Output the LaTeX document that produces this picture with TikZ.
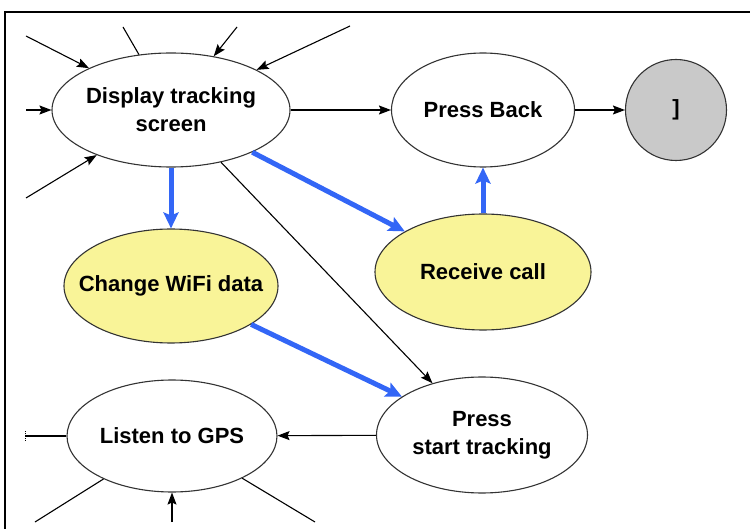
\documentclass[tikz,border=0pt]{standalone}
\usepackage{fontspec}
\setmainfont{Liberation Sans}
\usetikzlibrary{arrows.meta,shapes.geometric}
\definecolor{Wash}{HTML}{F9F498}
\definecolor{Stop}{HTML}{C9C9C9}
\definecolor{Path}{HTML}{3366F6}
\definecolor{Rim}{HTML}{333333}

\tikzset{
  state/.style={ellipse,draw=Rim,line width=1.1pt,fill=white,inner xsep=-22pt,inner ysep=0pt,
    align=center,font=\fontsize{22}{28}\selectfont\bfseries},
  hot/.style={state,fill=Wash},
  final/.style={circle,draw=Rim,line width=1.1pt,fill=Stop,minimum size=101pt,inner sep=0pt,
    font=\fontsize{22}{28}\selectfont\bfseries},
  edge/.style={line width=1.1pt,-{Stealth[length=12pt,width=9pt,inset=2pt]}},
  bare/.style={line width=1.1pt},
  flow/.style={Path,line width=5pt,-{Stealth[length=16pt,width=15pt,inset=3pt]}}
}

\begin{document}
\begin{tikzpicture}[x=1pt,y=-1pt]
\useasboundingbox (0,0) rectangle (750,529);
\draw[line width=1.6pt] (5,529) -- (5,12) -- (750,12);

\node[state,minimum width=238pt,minimum height=114pt] (disp) at (171,110) {Display tracking\\screen};
\node[state,minimum width=183pt,minimum height=114pt] (back) at (483,110) {Press Back};
\node[final] (done) at (676,110) {]};
\node[hot,minimum width=216pt,minimum height=116pt] (call) at (483,272) {Receive call};
\node[hot,minimum width=214pt,minimum height=114pt] (wifi) at (171,286) {Change WiFi data};
\node[state,minimum width=211pt,minimum height=116pt] (start) at (482,435) {Press\\start tracking};
\node[state,minimum width=210pt,minimum height=112pt] (gps) at (172,436) {Listen to GPS};

\foreach \x/\y [count=\i] in {26/36,237/27,350/26,26/110,26/198}{
  \coordinate (in\i) at (\x,\y);
  \draw[edge] (in\i) -- (disp);
}
\coordinate (out1) at (123,27);
\draw[bare] (disp) -- (out1);

\draw[edge] (disp) -- (back);
\draw[edge] (back) -- (done);
\draw[edge] (disp) -- (start);
\draw[edge] (start) -- (gps);

\draw[flow] (disp) -- (wifi);
\draw[flow] (disp) -- (call);
\draw[flow] (call) -- (back);
\draw[flow] (wifi) -- (start);

\coordinate (gl) at (26,436);
\coordinate (gb1) at (35,522);
\coordinate (gb2) at (172,522);
\coordinate (gb3) at (315,522);
\draw[bare] (gps) -- (gl);
\draw[densely dotted,line width=0.8pt] (25,431) -- (25,441);
\draw[bare] (gps) -- (gb1);
\draw[edge] (gb2) -- (gps);
\draw[bare] (gps) -- (gb3);
\end{tikzpicture}
\end{document}
